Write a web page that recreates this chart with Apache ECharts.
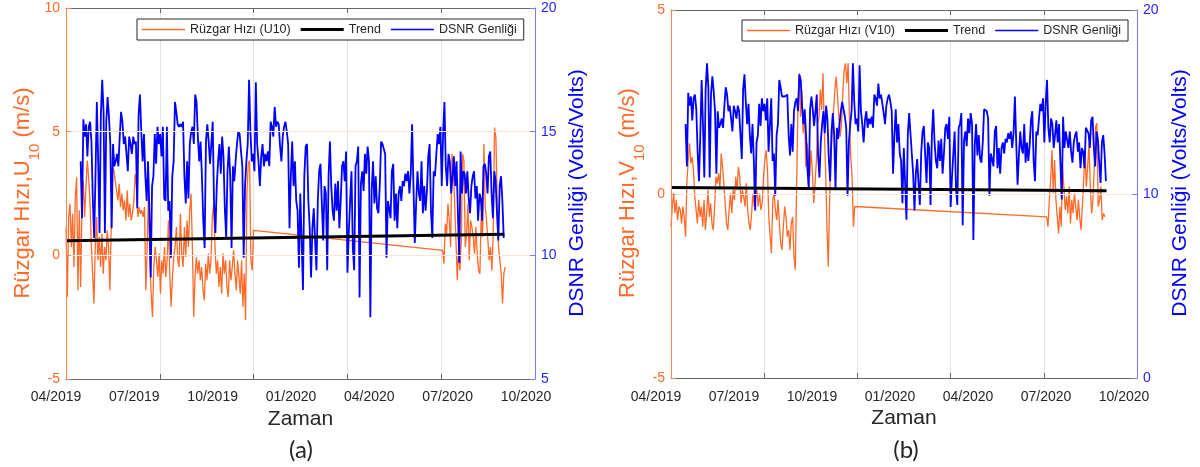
<!DOCTYPE html>
<html>
<head>
<meta charset="utf-8">
<title>Rüzgar Hızı ve DSNR Genliği</title>
<script src="https://cdn.jsdelivr.net/npm/echarts@6/dist/echarts.min.js"></script>
<style>
  html, body { margin: 0; padding: 0; background: #fff; }
  #chart { width: 1200px; height: 467px; }
</style>
</head>
<body>
<div id="chart"></div>
<script>
  // x values are days counted from 04/2019 (left edge of each panel)
  const X_MAX = 550;
  const X_TICK_LABELS = ['04/2019', '07/2019', '10/2019', '01/2020', '04/2020', '07/2020', '10/2020'];

  // DSNR amplitude (Volts/Volts), same record in both panels
  const DSNR_START = 17.2;
  const DSNR_STEP = 1.58;
  const DSNR = [
    13.8, 11.5, 15.5, 14.8, 15.3, 14.0, 15.2, 15.4, 14.6, 12.3,
    10.7, 13.2, 16.2, 13.8, 10.9, 15.7, 17.1, 15.8, 10.9, 15.4,
    16.4, 15.6, 14.5, 11.1, 14.5, 13.6, 13.8, 14.1, 13.6, 14.8,
    15.8, 15.4, 14.5, 14.8, 14.1, 13.4, 14.8, 14.5, 14.1, 14.8,
    14.5, 14.6, 11.9, 15.7, 16.5, 15.0, 13.8, 14.9, 13.2, 12.2,
    13.8, 11.8, 9.1, 12.8, 13.2, 14.9, 13.7, 15.2, 14.5, 14.9,
    14.0, 15.2, 12.3, 12.2, 15.2, 11.8, 12.2, 9.9, 13.2, 13.8,
    16.2, 15.8, 15.3, 15.2, 15.3, 15.2, 15.4, 13.2, 12.1, 13.8,
    12.3, 14.5, 15.0, 15.2, 14.5, 16.5, 16.2, 14.8, 13.8, 14.6,
    13.2, 11.4, 10.3, 14.6, 15.3, 14.6, 13.7, 14.5, 15.4, 12.1,
    10.9, 12.8, 13.8, 14.5, 13.3, 14.8, 14.0, 11.9, 10.7, 13.4,
    14.4, 13.2, 10.3, 13.6, 13.0, 13.8, 14.5, 15.0, 14.9, 14.2,
    13.6, 9.9, 12.8, 13.8, 14.5, 17.1, 15.0, 13.8, 14.1, 13.4,
    17.0, 14.5,
    13.8, 12.8, 14.0, 14.5, 13.6, 14.1, 13.8, 14.2, 13.6, 15.4,
    15.2, 14.8, 16.0, 15.2, 15.4, 15.3, 14.4, 13.8, 14.8, 15.2,
    15.4, 15.0, 14.5, 11.1, 13.2, 14.6, 12.8, 13.8, 12.2, 11.8,
    9.5, 12.5, 10.6, 8.6, 13.2, 14.4, 14.5, 12.2, 11.1, 9.1,
    11.1, 11.9, 10.6, 9.4, 12.2, 13.4, 13.7, 12.1, 10.6, 12.8,
    12.5, 9.4, 13.2, 14.6, 12.8, 11.8, 11.4, 12.9, 11.8, 13.0,
    11.1, 12.2, 13.6, 13.8, 13.0, 14.2, 9.3, 10.9, 12.2, 13.4,
    10.3, 9.4, 13.6, 13.8, 14.4, 8.3, 12.9, 13.4, 12.6, 14.1,
    13.3, 14.4, 13.8, 7.5, 12.6, 13.8, 12.1, 13.2, 11.9, 11.7,
    12.8, 14.6, 14.5, 14.5, 14.1, 9.9, 12.2, 11.9, 11.5, 13.4,
    13.7, 11.4, 12.5, 11.1, 12.5, 12.8, 12.2, 13.0, 12.8, 13.3,
    13.0, 13.4, 12.5, 13.3, 15.3, 12.8, 10.5, 12.1, 13.4, 12.5,
    12.2, 13.8, 11.7, 12.8, 11.8, 12.6, 14.0, 14.5, 11.8, 10.7,
    13.4, 13.2, 14.1, 14.9, 14.5,
    15.2, 12.8, 14.9, 16.2, 13.6, 12.8, 14.1, 13.8, 12.5, 13.2,
    14.0, 12.8, 13.8, 11.7, 9.7, 14.2, 12.5, 13.4, 13.3, 12.5,
    13.4, 12.3, 11.7, 12.8, 13.2, 13.4, 12.3, 12.8, 11.4, 12.5,
    12.3, 11.4, 13.6, 13.7, 13.3, 12.5, 14.0, 14.2, 12.5, 11.5,
    13.4, 13.0, 11.7, 10.6, 12.8, 13.2, 12.2, 10.7
  ];

  // wind speed records, two stretches each (gap between them is bridged by the line)
  const WIND_STEP = 1.56;
  const U10_PART1_START = 0;
  const U10_PART1 = [
    1.14, -1.68, 1.55, 2.08, 0.34, 1.68, -0.47, 2.35, 3.16, -1.41,
    1.82, -1.28, 1.82, 3.02, 1.55, 2.76, 3.83, 3.16, 2.22, 0.47,
    -0.74, -1.95, 0.34, 1.55, -0.20, 0.74, -0.47, 0.87, -0.74, 0.34,
    -0.20, 1.01, 0.34, -1.41, 1.14, 3.56, 3.43, 3.02, 2.62, 2.22,
    2.89, 1.95, 2.49, 1.82, 2.22, 1.41, 2.62, 1.55, 2.08, 1.41,
    1.68, 2.22, 3.29, 2.76, 1.55, 1.95, 1.68, 1.82, 1.55, 1.95,
    -1.41, 0.34, 2.49, -0.20, -1.55, -2.49, -0.47, 0.34, -0.20, -0.87,
    0.07, -1.55, -0.20, -0.74, 0.34, -0.87, -0.20, 1.41, -0.74, -2.08,
    -0.87, -0.07, 0.34, 1.14, -0.20, -0.47, 1.68, 0.07, -0.47, 1.14,
    -0.07, 1.41, 0.34, 1.82, 2.49, 0.34, -2.49, -0.87, -0.07, -0.74,
    -0.20, -1.01, -0.47, -1.41, -1.82, -0.34, -1.01, 0.07, -0.74, -0.20,
    1.55, 2.08, 0.34, -0.74, -0.20, -1.28, -0.47, -1.55, 0.07, -0.74,
    -0.20, -1.28, -1.68, -0.20, -1.01, -0.47, 0.20, -0.74, -1.41, -0.20,
    -0.87, -1.55, -0.20, -2.08, -0.74, -2.62, 2.49, 3.70, 3.83, -0.20,
    -0.61, 1.01
  ];
  const U10_PART2_START = 441.7;
  const U10_PART2 = [
    0.20, -0.34, 1.28, 0.87, 2.08, 1.41, 0.34, 4.10, 3.43, 2.22,
    0.60, -1.01, 0.34, -0.61, 0.60, 4.10, 3.83, 0.34, 0.87, 2.08,
    -0.20, 1.41, 1.14, 0.74, 0.07, 1.14, 0.07, -0.61, -0.74, 1.68,
    0.74, 4.50, 1.95, 1.41, 0.60, -0.20, 0.34, -0.61, 0.87, 5.17,
    4.77, 2.22, 0.34, -0.20, -0.74, -1.95, -0.74, -0.47
  ];
  const V10_PART1_START = 0;
  const V10_PART1 = [
    -0.89, -0.34, 0.02, -0.52, -0.16, -0.71, -0.34, -0.43, -0.80, -0.34,
    -0.62, -1.16, 0.29, 0.92, 1.38, 0.83, 1.01, 0.65, -0.07, -0.43,
    -0.80, -0.16, -0.62, -0.34, -0.89, -0.16, -0.98, -0.52, 0.11, -0.62,
    -0.25, -0.80, -0.98, -0.34, 0.47, 0.29, 0.56, 0.11, 1.10, 0.74,
    0.29, -0.25, -0.80, -0.98, -0.43, 0.02, -0.52, 0.11, -0.16, 0.47,
    0.11, 0.74, 0.47, -0.25, 0.11, -0.07, -0.34, 0.29, -0.43, -0.80,
    -0.98, -0.52, 0.02, -0.34, -0.07, 0.11, -0.34, 0.02, -0.43, -0.25,
    0.47, 0.92, 1.19, 0.65, -0.62, -1.16, -1.61, -0.16, 0.02, -0.43,
    -0.71, -0.16, -0.80, -1.34, -1.52, -0.89, -0.34, -0.62, -1.16, -0.98,
    -1.52, -0.80, -0.62, -1.70, -2.06, 0.11, 2.37, 3.28, 2.10, 2.83,
    1.65, 2.28, 0.74, 1.38, 0.92, 0.47, 1.19, 0.56, -0.25, 0.29,
    0.92, 1.92, 2.10, 2.83, 2.28, 3.28, 1.74, 0.65, -0.89, -1.97,
    -0.16, 1.01, 1.65, 2.28, 2.83, 3.19, 2.64, 2.10, 1.56, 1.92,
    2.74, 3.37, 3.55, 3.01, 3.55, 2.10, 1.01, 0.47, -0.89, -0.34
  ];
  const V10_PART2_START = 443.4;
  const V10_PART2 = [
    -0.62, -0.89, -0.16, 0.38, 1.20, 0.02, 0.92, -0.16, -0.62, -1.07,
    -0.34, -0.89, 0.74, 0.20, -0.43, -0.07, -0.53, 0.20, -0.80, -0.16,
    -0.53, 0.02, -0.34, -0.71, -0.16, -0.62, -0.98, -0.34, 0.38, 1.20,
    0.20, 0.74, 1.38, 0.20, -0.53, -0.16, 0.74, 1.83, 1.92, -0.34,
    -0.16, 0.20, -0.71, -0.53, -0.62
  ];

  // linear trend end points
  const TREND_DAYS = [0, 514];
  const U10_TREND = [0.59, 0.85];
  const V10_TREND = [0.18, 0.09];

  const ORANGE = '#ff6a28';
  const ORANGE_AXIS = '#ff8450';
  const BLUE = '#0000ff';
  const BLUE_AXIS = '#7a7aff';
  const DARK = '#262626';
  const FONT = 'Liberation Sans, Arial, sans-serif';

  function toPoints(values, start, step) {
    return values.map((v, i) => [start + i * step, v]);
  }

  const dsnrData = toPoints(DSNR, DSNR_START, DSNR_STEP);
  const u10Data = toPoints(U10_PART1, U10_PART1_START, WIND_STEP)
    .concat(toPoints(U10_PART2, U10_PART2_START, WIND_STEP));
  const v10Data = toPoints(V10_PART1, V10_PART1_START, WIND_STEP)
    .concat(toPoints(V10_PART2, V10_PART2_START, WIND_STEP));
  const u10Trend = TREND_DAYS.map((d, i) => [d, U10_TREND[i]]);
  const v10Trend = TREND_DAYS.map((d, i) => [d, V10_TREND[i]]);

  function bottomAxis(gridIndex) {
    return {
      type: 'value', gridIndex: gridIndex, position: 'bottom',
      min: 0, max: X_MAX, interval: 110,
      axisLine: {show: true, onZero: false, lineStyle: {color: '#666', width: 1}},
      axisTick: {show: true, inside: true, length: 5, lineStyle: {color: '#666'}},
      axisLabel: {show: false},
      splitLine: {show: true, showMinLine: false, showMaxLine: false,
        lineStyle: {color: '#e4e4e4', width: 1}},
      name: 'Zaman', nameLocation: 'middle', nameGap: 30,
      nameTextStyle: {fontSize: 21, color: DARK}
    };
  }

  function topAxis(gridIndex) {
    return {
      type: 'value', gridIndex: gridIndex, position: 'top',
      min: 0, max: X_MAX, interval: 110,
      axisLine: {show: true, onZero: false, lineStyle: {color: '#666', width: 1}},
      axisTick: {show: true, inside: true, length: 5, lineStyle: {color: '#666'}},
      axisLabel: {show: false},
      splitLine: {show: false}
    };
  }

  function labelAxis(gridIndex) {
    return {
      type: 'category', gridIndex: gridIndex, data: X_TICK_LABELS, boundaryGap: false,
      axisLine: {show: false, onZero: false}, axisTick: {show: false}, splitLine: {show: false},
      axisLabel: {interval: 0, color: DARK, fontSize: 14, margin: 12}
    };
  }

  function leftAxis(gridIndex, min, max, interval) {
    return {
      type: 'value', gridIndex: gridIndex, position: 'left', z: 10,
      min: min, max: max, interval: interval,
      axisLine: {show: true, onZero: false, lineStyle: {color: ORANGE_AXIS, width: 1}},
      axisTick: {show: true, inside: true, length: 5, lineStyle: {color: ORANGE_AXIS}},
      axisLabel: {color: ORANGE, fontSize: 14, margin: 6},
      splitLine: {show: true, showMinLine: false, showMaxLine: false,
        lineStyle: {color: '#fbe4d9', width: 1}}
    };
  }

  function rightAxis(gridIndex, min, max, interval) {
    return {
      type: 'value', gridIndex: gridIndex, position: 'right', z: 10,
      min: min, max: max, interval: interval,
      axisLine: {show: true, onZero: false, lineStyle: {color: BLUE_AXIS, width: 1}},
      axisTick: {show: true, inside: true, length: 5, lineStyle: {color: BLUE_AXIS}},
      axisLabel: {color: '#1f1fff', fontSize: 14, margin: 6},
      splitLine: {show: false}
    };
  }

  const THIN_ICON = 'path://M0,0H43V1.5H0Z';
  const THICK_ICON = 'path://M0,0H43V3H0Z';

  function legendFor(left, top, windName) {
    return {
      left: left, top: top, orient: 'horizontal',
      data: [
        {name: windName, icon: THIN_ICON},
        {name: 'Trend', icon: THICK_ICON},
        {name: 'DSNR Genliği', icon: THIN_ICON}
      ],
      itemWidth: 43, itemHeight: 12, itemGap: 10,
      padding: [4, 7, 4, 5],
      borderColor: DARK, borderWidth: 1, backgroundColor: '#fff',
      selectedMode: false,
      textStyle: {fontSize: 12.5, color: DARK}
    };
  }

  function lineSeries(name, data, xi, yi, color, width, z) {
    return {
      name: name, type: 'line', data: data,
      xAxisIndex: xi, yAxisIndex: yi,
      showSymbol: false, symbol: 'none', silent: true, z: z,
      color: color,
      lineStyle: {color: color, width: width}
    };
  }

  const nameRich = {
    a: {fontSize: 22, fill: ORANGE, verticalAlign: 'top', lineHeight: 24, fontFamily: FONT},
    s: {fontSize: 15, fill: ORANGE, verticalAlign: 'top', lineHeight: 15, padding: [15, 0, 0, 0], fontFamily: FONT}
  };

  function rotatedText(x, y, text, extra) {
    return {
      type: 'text', x: x, y: y, rotation: Math.PI / 2, silent: true,
      style: Object.assign({text: text, align: 'center', verticalAlign: 'middle',
        fontFamily: FONT}, extra)
    };
  }

  const chart = echarts.init(document.getElementById('chart'));
  chart.setOption({
    animation: false,
    backgroundColor: '#fff',
    textStyle: {fontFamily: FONT},
    grid: [
      {left: 66, top: 8, width: 469, height: 371},
      {left: 671, top: 10, width: 466, height: 368},
      {left: 56, top: 8, width: 470, height: 370},
      {left: 656, top: 10, width: 468, height: 368}
    ],
    xAxis: [
      bottomAxis(0), topAxis(0),
      bottomAxis(1), topAxis(1),
      labelAxis(2), labelAxis(3)
    ],
    yAxis: [
      leftAxis(0, -5, 10, 5), rightAxis(0, 5, 20, 5),
      leftAxis(1, -5, 5, 5), rightAxis(1, 0, 20, 10),
      {type: 'value', gridIndex: 2, show: false},
      {type: 'value', gridIndex: 3, show: false}
    ],
    legend: [
      legendFor(137, 19, 'Rüzgar Hızı (U10)'),
      legendFor(742, 20, 'Rüzgar Hızı (V10)')
    ],
    series: [
      lineSeries('Rüzgar Hızı (U10)', u10Data, 0, 0, ORANGE, 1.3, 2),
      lineSeries('DSNR Genliği', dsnrData, 0, 1, BLUE, 1.8, 3),
      lineSeries('Trend', u10Trend, 0, 0, '#000', 3, 4),
      lineSeries('Rüzgar Hızı (V10)', v10Data, 2, 2, ORANGE, 1.3, 2),
      lineSeries('DSNR Genliği', dsnrData, 2, 3, BLUE, 1.8, 3),
      lineSeries('Trend', v10Trend, 2, 2, '#000', 3, 4)
    ],
    graphic: [
      rotatedText(24, 193, '{a|Rüzgar Hızı,U}{s|10}{a| (m/s)}', {rich: nameRich, fill: ORANGE}),
      rotatedText(629, 193, '{a|Rüzgar Hızı,V}{s|10}{a| (m/s)}', {rich: nameRich, fill: ORANGE}),
      rotatedText(577, 193, 'DSNR Genliği (Volts/Volts)', {fontSize: 21, fill: BLUE}),
      rotatedText(1180, 193, 'DSNR Genliği (Volts/Volts)', {fontSize: 21, fill: BLUE}),
      {type: 'text', x: 301, y: 450, silent: true,
        style: {text: '(a)', fontSize: 24, fill: DARK, fontFamily: 'Lato', align: 'center', verticalAlign: 'middle'}},
      {type: 'text', x: 906, y: 450, silent: true,
        style: {text: '(b)', fontSize: 24, fill: DARK, fontFamily: 'Lato', align: 'center', verticalAlign: 'middle'}}
    ]
  });
</script>
</body>
</html>
